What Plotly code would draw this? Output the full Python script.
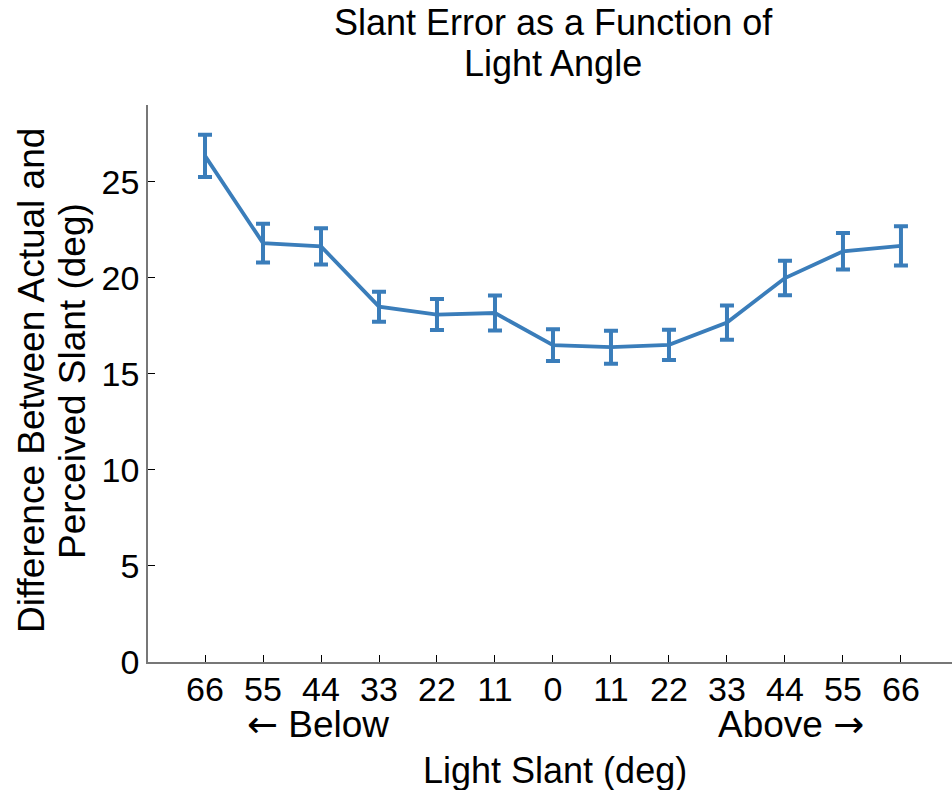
import plotly.graph_objects as go

categories = [1, 2, 3, 4, 5, 6, 7, 8, 9, 10, 11, 12, 13]
tick_labels = ["66", "55", "44", "33", "22", "11", "0", "11", "22", "33", "44", "55", "66"]
slant_error = [26.35, 21.81, 21.64, 18.50, 18.09, 18.17, 16.50, 16.39, 16.51, 17.67, 19.99, 21.38, 21.67]
error_sem = [1.10, 1.01, 0.94, 0.78, 0.81, 0.91, 0.83, 0.86, 0.79, 0.89, 0.90, 0.95, 1.02]

COLOR = "#3a7dba"
FONT = "Liberation Sans"
FIG_W, FIG_H = 952, 790
PLOT_L, PLOT_T = 148, 105
PLOT_W, PLOT_H = FIG_W - PLOT_L, 557

fig = go.Figure()
fig.add_trace(go.Scatter(
    x=categories, y=slant_error,
    mode="lines",
    line=dict(color=COLOR, width=3.8),
    error_y=dict(type="data", array=error_sem, visible=True,
                 color=COLOR, thickness=4, width=7),
    showlegend=False,
))

fig.update_layout(
    width=FIG_W, height=FIG_H,
    margin=dict(l=PLOT_L, r=0, t=PLOT_T, b=FIG_H - PLOT_T - PLOT_H, autoexpand=False),
    paper_bgcolor="white", plot_bgcolor="white",
    font=dict(family=FONT, size=34, color="black"),
    xaxis=dict(
        range=[0.017, 13.88], automargin=False,
        tickmode="array", tickvals=categories, ticktext=tick_labels,
        ticks="inside", ticklen=7, tickwidth=1, tickcolor="black",
        ticklabelstandoff=-4,
        showline=True, linecolor="#777777", linewidth=1.5,
        showgrid=False, zeroline=False,
        tickfont=dict(family=FONT, size=34, color="black"),
    ),
    yaxis=dict(
        range=[0, 29], automargin=False,
        tickmode="array", tickvals=[0, 5, 10, 15, 20, 25],
        ticks="inside", ticklen=7, tickwidth=1, tickcolor="black",
        showline=True, linecolor="#777777", linewidth=1.5,
        showgrid=False, zeroline=False,
        tickfont=dict(family=FONT, size=34, color="black"),
    ),
)

def px_x(p):
    return (p - PLOT_L) / PLOT_W

def px_y(p):
    return (PLOT_T + PLOT_H - p) / PLOT_H

def label(text, x, y, size, angle=0):
    fig.add_annotation(text=text, x=px_x(x), xref="paper", y=px_y(y), yref="paper",
                       xanchor="center", yanchor="middle", textangle=angle,
                       showarrow=False, font=dict(family=FONT, size=size, color="black"))

# Title (two lines, tight spacing)
label("Slant Error as a Function of", 553, 23, 36)
label("Light Angle", 553, 64, 36)
# Y title (two lines)
label("Difference Between Actual and", 31, 381, 37, -90)
label("Perceived Slant (deg)", 72, 381, 37, -90)
# X title
label("Light Slant (deg)", 555, 770, 36)

ARROW = '<span style="font-family:DejaVu Sans">{}</span>'
label(ARROW.format("\u2190") + " Below", 318, 724, 37)
label("Above " + ARROW.format("\u2192"), 791, 724, 37)

fig.write_html(
    "out.html",
    config={"displayModeBar": False},
    post_script="document.body.style.margin='0';"
                "document.documentElement.style.overflow='hidden';"
                "document.body.style.overflow='hidden';",
)
